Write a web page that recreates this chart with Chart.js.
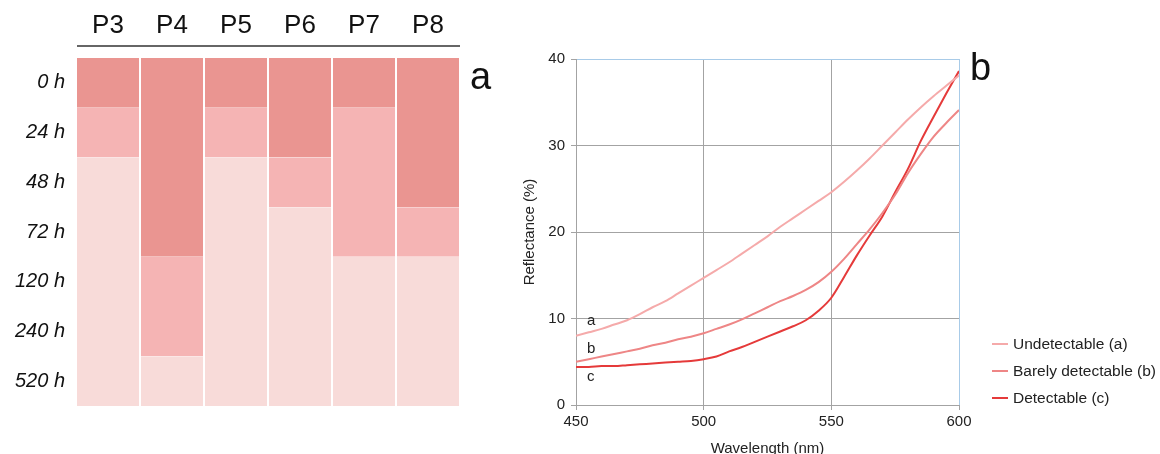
<!DOCTYPE html>
<html>
<head>
<meta charset="utf-8">
<script src="https://cdn.jsdelivr.net/npm/chart.js@4.4.1/dist/chart.umd.min.js"></script>
<style>
  html, body { margin: 0; padding: 0; background: #fff; }
  body { width: 1160px; height: 454px; position: relative; overflow: hidden; font-family: "Liberation Sans", Arial, sans-serif; }
  #wrapA { position: absolute; left: 0; top: 0; width: 500px; height: 454px; }
  #wrapB { position: absolute; left: 500px; top: 0; width: 660px; height: 454px; }
  .panel { position: absolute; font-size: 38px; color: #111; line-height: 1; }
  .curve { position: absolute; font-size: 15px; color: #222; line-height: 1; }
  #legend { position: absolute; left: 992px; top: 330px; font-size: 15.5px; color: #222; }
  #legend .item { height: 27px; display: flex; align-items: center; }
  #legend .swatch { width: 16px; height: 2px; margin-right: 5px; }
</style>
</head>
<body>
<div id="wrapA"><canvas id="chartA" width="500" height="454"></canvas></div>
<div id="wrapB"><canvas id="chartB" width="660" height="454"></canvas></div>
<div class="panel" style="left:470px; top:57px;">a</div>
<div class="panel" style="left:970px; top:48px;">b</div>
<div class="curve" style="left:587px; top:312px;">a</div>
<div class="curve" style="left:587px; top:340px;">b</div>
<div class="curve" style="left:587px; top:368px;">c</div>
<div id="legend"></div>
<script>
// ---------- Panel a data ----------
const columns = ['P3', 'P4', 'P5', 'P6', 'P7', 'P8'];
const timePoints = ['0 h', '24 h', '48 h', '72 h', '120 h', '240 h', '520 h'];
// number of time rows (from the top) in each colour level per column
const strongUntil = [1, 4, 1, 2, 1, 3];   // darkest shade ends after this row
const mediumUntil = [2, 6, 2, 3, 4, 4];   // medium shade ends after this row
const levelNames = ['Strong', 'Medium', 'Weak'];
const levelColors = ['#EA9591', '#F5B4B4', '#F8DBD9'];

// ---------- Panel b data ----------
const wavelengths = [450,455,460,465,470,475,480,485,490,495,500,505,510,515,520,525,530,535,540,545,550,555,560,565,570,575,580,585,590,595,600];
const undetectable = [8.0,8.4,8.8,9.3,9.8,10.5,11.3,12.0,12.9,13.8,14.7,15.6,16.5,17.5,18.5,19.5,20.6,21.6,22.6,23.6,24.6,25.8,27.1,28.5,30.0,31.5,33.0,34.4,35.7,36.9,38.1];
const barelyDetectable = [5.0,5.3,5.6,5.9,6.2,6.5,6.9,7.2,7.6,7.9,8.3,8.8,9.3,9.9,10.6,11.3,12.0,12.6,13.3,14.2,15.4,16.9,18.6,20.3,22.2,24.3,26.8,29.0,31.0,32.6,34.1];
const detectable = [4.4,4.4,4.5,4.5,4.6,4.7,4.8,4.9,5.0,5.1,5.3,5.6,6.2,6.7,7.3,7.9,8.5,9.1,9.8,10.9,12.4,14.8,17.3,19.6,21.8,24.6,27.3,30.5,33.3,36.0,38.6];
const seriesNames = ['Undetectable (a)', 'Barely detectable (b)', 'Detectable (c)'];
const seriesColors = ['#F5AAAA', '#EE8686', '#E53A3A'];
const xTicks = [450, 500, 550, 600];
const yTicks = [0, 10, 20, 30, 40];

const FONT = '"Liberation Sans", Arial, sans-serif';

// ---------- Chart a ----------
const rowCount = timePoints.length;
const ranges = [
  strongUntil.map(e => [0, e]),
  strongUntil.map((s, i) => [s, mediumUntil[i]]),
  mediumUntil.map(m => [m, rowCount])
];

const headerLine = {
  id: 'headerLine',
  afterDraw(chart) {
    const {ctx, chartArea} = chart;
    ctx.save();
    ctx.strokeStyle = '#333';
    ctx.lineWidth = 1.5;
    ctx.beginPath();
    ctx.moveTo(chartArea.left + 1, chartArea.top - 12);
    ctx.lineTo(chartArea.right, chartArea.top - 12);
    ctx.stroke();
    ctx.restore();
  }
};

new Chart(document.getElementById('chartA'), {
  type: 'bar',
  data: {
    labels: columns,
    datasets: levelNames.map((name, k) => ({
      label: name,
      data: ranges[k],
      backgroundColor: levelColors[k],
      borderColor: '#ffffff',
      borderWidth: {left: 1, right: 1, top: 0, bottom: 0},
      borderSkipped: false,
      grouped: false,
      barPercentage: 1,
      categoryPercentage: 1,
      inflateAmount: 0
    }))
  },
  options: {
    responsive: false,
    animation: false,
    layout: { padding: {left: 0, right: 40, top: 0, bottom: 48} },
    plugins: { legend: {display: false}, tooltip: {enabled: false} },
    scales: {
      x: {
        position: 'top',
        grid: {display: false, drawTicks: false},
        border: {display: false},
        ticks: { color: '#111', font: {family: FONT, size: 26}, padding: 17 },
        afterFit: s => { s.height = 58; }
      },
      y: {
        type: 'linear',
        reverse: true,
        min: 0,
        max: rowCount,
        grid: {display: false, drawTicks: false},
        border: {display: false},
        afterBuildTicks: s => { s.ticks = timePoints.map((t, i) => ({value: i + 0.5})); },
        ticks: {
          color: '#111',
          font: {family: FONT, size: 20, style: 'italic'},
          padding: 11,
          autoSkip: false,
          callback: (v, i) => timePoints[i]
        },
        afterFit: s => { s.width = 76; }
      }
    }
  },
  plugins: [headerLine]
});

// ---------- Chart b ----------
const seriesValues = [undetectable, barelyDetectable, detectable];
const GRID = '#A3A3A3';
const EDGE = '#A8CBE8';

new Chart(document.getElementById('chartB'), {
  type: 'line',
  data: {
    datasets: seriesValues.map((vals, k) => ({
      label: seriesNames[k],
      data: wavelengths.map((w, i) => ({x: w, y: vals[i]})),
      borderColor: seriesColors[k],
      borderWidth: 2,
      pointRadius: 0,
      fill: false,
      cubicInterpolationMode: 'monotone'
    }))
  },
  options: {
    responsive: false,
    animation: false,
    layout: { padding: {left: 0, right: 201, top: 59, bottom: 0} },
    plugins: { legend: {display: false}, tooltip: {enabled: false} },
    scales: {
      x: {
        type: 'linear',
        min: 450, max: 600,
        afterBuildTicks: s => { s.ticks = xTicks.map(v => ({value: v})); },
        grid: {
          color: c => (c.tick && c.tick.value === 600) ? EDGE : GRID,
          tickColor: GRID,
          tickLength: 5,
          lineWidth: 1
        },
        border: {display: true, color: GRID, width: 1},
        ticks: { color: '#222', font: {family: FONT, size: 15}, padding: 3 },
        title: { display: true, text: 'Wavelength (nm)', color: '#222', font: {family: FONT, size: 15, lineHeight: 1}, padding: {top: 0, bottom: -2} },
        afterFit: s => { s.height = 49; }
      },
      y: {
        type: 'linear',
        min: 0, max: 40,
        afterBuildTicks: s => { s.ticks = yTicks.map(v => ({value: v})); },
        grid: {
          color: c => (c.tick && c.tick.value === 40) ? EDGE : GRID,
          tickColor: GRID,
          tickLength: 5,
          lineWidth: 1
        },
        border: {display: true, color: GRID, width: 1},
        ticks: { color: '#222', font: {family: FONT, size: 15}, padding: 6 },
        title: { display: true, text: 'Reflectance (%)', color: '#222', font: {family: FONT, size: 15, lineHeight: 1}, padding: {top: 22, bottom: 0} },
        afterFit: s => { s.width = 76; }
      }
    }
  }
});

// ---------- Legend ----------
const legendEl = document.getElementById('legend');
seriesNames.forEach((name, k) => {
  const item = document.createElement('div');
  item.className = 'item';
  const sw = document.createElement('span');
  sw.className = 'swatch';
  sw.style.background = seriesColors[k];
  const tx = document.createElement('span');
  tx.textContent = name;
  item.appendChild(sw);
  item.appendChild(tx);
  legendEl.appendChild(item);
});
</script>
</body>
</html>
